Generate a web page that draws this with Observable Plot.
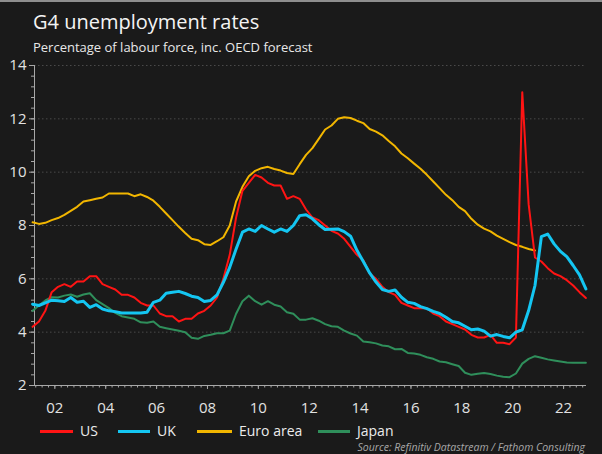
<!DOCTYPE html>
<html><head><meta charset="utf-8">
<script src="https://cdn.jsdelivr.net/npm/d3@7"></script>
<script src="https://cdn.jsdelivr.net/npm/@observablehq/plot@0.6"></script>
<style>
html,body{margin:0;padding:0;background:#1a1a1a;}
#wrap{position:relative;width:602px;height:454px;overflow:hidden;background:#1a1a1a;border-top:2px solid #8e8e8e;box-sizing:border-box;font-family:"Open Sans",sans-serif;}
#head{height:52px;position:relative;}
#title{position:absolute;left:33px;top:6px;font-size:20px;color:#f4f4f4;line-height:normal;white-space:nowrap;}
#sub{position:absolute;left:33px;top:36px;font-size:13px;color:#e8e8e8;line-height:normal;white-space:nowrap;}
#chart svg{display:block;}
.leg{position:absolute;top:421px;height:16px;line-height:16px;display:flex;align-items:center;font-size:14px;color:#ececec;white-space:nowrap;}
.sw{height:3px;margin-right:7px;}
#src{position:absolute;right:17px;top:439px;font-size:10.5px;line-height:13px;font-style:italic;color:#a8a8a8;white-space:nowrap;}
</style></head>
<body>
<div id="wrap">
  <div id="head">
    <div id="title">G4 unemployment rates</div>
    <div id="sub">Percentage of labour force, inc. OECD forecast</div>
  </div>
  <div id="chart"></div>
  <div id="legend"></div>
  <div id="src">Source: Refinitiv Datastream / Fathom Consulting</div>
</div>
<script>
// Quarterly data, 2001 Q1 onward (plotted at mid-quarter)
const startYear = 2001;
const yTickLabels = [2, 4, 6, 8, 10, 12, 14];
const xTickYears = [2002, 2004, 2006, 2008, 2010, 2012, 2014, 2016, 2018, 2020, 2022];

const us = [
  4.2, 4.4, 4.8, 5.5,  5.7, 5.8, 5.7, 5.9,  5.9, 6.1, 6.1, 5.8,  5.7, 5.6, 5.4, 5.4,
  5.3, 5.1, 5.0, 5.0,  4.7, 4.6, 4.6, 4.4,  4.5, 4.5, 4.7, 4.8,  5.0, 5.3, 6.0, 6.9,
  8.3, 9.3, 9.6, 9.9,  9.8, 9.6, 9.5, 9.5,  9.0, 9.1, 9.0, 8.6,  8.3, 8.2, 8.0, 7.8,
  7.7, 7.5, 7.2, 6.9,  6.7, 6.2, 6.0, 5.7,  5.5, 5.4, 5.1, 5.0,  4.9, 4.9, 4.9, 4.7,
  4.6, 4.4, 4.3, 4.2,  4.1, 3.9, 3.8, 3.8,  3.9, 3.6, 3.6, 3.55, 3.8, 13.0, 8.8, 6.8,
  6.65, 6.4, 6.2, 6.1, 5.95, 5.75, 5.5, 5.28
];
const uk = [
  5.05, 5.0, 5.1, 5.2,  5.18, 5.15, 5.3, 5.12,  5.16, 4.93, 5.03, 4.87,  4.8, 4.77, 4.72, 4.72,
  4.72, 4.72, 4.75, 5.12,  5.2, 5.46, 5.5, 5.53,  5.45, 5.35, 5.3, 5.15,  5.19, 5.4, 5.87, 6.43,
  7.12, 7.75, 7.87, 7.78,  8.0, 7.87, 7.75, 7.87,  7.78, 8.0, 8.37, 8.4,  8.25, 8.03, 7.85, 7.86,
  7.87, 7.77, 7.6, 7.07,  6.65, 6.22, 5.88, 5.6,  5.53, 5.58, 5.31, 5.12,  5.08, 4.96, 4.88, 4.78,
  4.7, 4.56, 4.4, 4.35,  4.22, 4.09, 4.12, 4.04,  3.85, 3.91, 3.84, 3.79,  4.0, 4.09, 4.81, 5.75,
  7.58, 7.68, 7.31, 7.03,  6.83, 6.5, 6.15, 5.62
];
const euroArea = [
  8.12, 8.06, 8.1, 8.2,  8.28, 8.4, 8.55, 8.7,  8.9, 8.95, 9.0, 9.05,  9.2, 9.2, 9.2, 9.2,
  9.1, 9.17, 9.07, 8.93,  8.7, 8.45, 8.2, 7.95,  7.72, 7.5, 7.45, 7.3,  7.27, 7.41, 7.56, 8.0,
  8.9, 9.45, 9.85, 10.05,  10.15, 10.2, 10.12, 10.06,  9.97, 9.93, 10.3, 10.65,  10.9, 11.25, 11.6, 11.75,
  12.0, 12.06, 12.03, 11.93,  11.84, 11.62, 11.52, 11.38,  11.17, 10.97, 10.7, 10.52,  10.32, 10.13, 9.9, 9.65,
  9.4, 9.15, 8.95, 8.7,  8.54, 8.25, 8.03, 7.88,  7.78, 7.62, 7.5, 7.38,  7.27, 7.2, 7.12, 7.06
];
const japan = [
  4.8, 5.0, 5.19, 5.31,  5.3, 5.37, 5.41, 5.33,  5.41, 5.46, 5.2, 5.05,  4.9, 4.72, 4.6, 4.55,
  4.5, 4.37, 4.35, 4.4,  4.2, 4.15, 4.1, 4.05,  4.0, 3.79, 3.75, 3.86,  3.9, 3.96, 3.96, 4.06,
  4.69, 5.16, 5.37, 5.16,  5.03, 5.16, 5.03, 4.96,  4.75, 4.69, 4.47, 4.47,  4.52, 4.43, 4.3, 4.22,
  4.2, 4.06, 3.95, 3.87,  3.65, 3.62, 3.58, 3.5,  3.47, 3.36, 3.37, 3.22,  3.2, 3.15, 3.06, 3.0,
  2.9, 2.87, 2.8, 2.73,  2.48, 2.4, 2.44, 2.47,  2.43, 2.37, 2.33, 2.31,  2.45, 2.82, 3.0, 3.1,
  3.04, 2.98, 2.94, 2.9,  2.86, 2.85, 2.85, 2.85
];

const seriesNames = ["US", "UK", "Euro area", "Japan"];
const seriesColors = ["#ff1414", "#14c6f2", "#f2b600", "#2f8f5b"];
const seriesWidths = [2, 3, 2, 2];
const seriesValues = [us, uk, euroArea, japan];

const toRows = (vals, name) => vals.map((v, i) => ({series: name, t: startYear + i * 0.25 + 0.125, v}));

const x0 = 2001.2, x1 = 2022.9;
const quarterTicks = d3.range(0, 100).map(i => startYear + 0.25 + i * 0.25).filter(d => d >= x0 && d <= x1);
const minorY = d3.range(0, 31).map(i => 2 + i * 0.4);
const axisCol = "#a8a8a8";
const textCol = "#e2e2e2";

const drawOrder = [2, 3, 0, 1];
const lineMarks = drawOrder.map(k => Plot.line(toRows(seriesValues[k], seriesNames[k]), {
  x: "t", y: "v", stroke: seriesColors[k], strokeWidth: seriesWidths[k], strokeLinejoin: "round"
}));

const chart = Plot.plot({
  width: 602, height: 374,
  marginTop: 11, marginBottom: 43, marginLeft: 34, marginRight: 16,
  style: {background: "transparent", color: textCol, fontFamily: "Open Sans, sans-serif", fontSize: "15px", overflow: "visible"},
  x: {domain: [x0, x1], label: null},
  y: {domain: [2, 14], label: null},
  marks: [
    Plot.gridY(yTickLabels.filter(d => d > 2), {stroke: "#4a4a4a", strokeOpacity: 1, strokeDasharray: "1.5,2.5"}),
    Plot.axisX(quarterTicks, {tickSize: 2.5, tickFormat: () => "", stroke: axisCol, label: null}),
    Plot.axisX(xTickYears, {tickSize: 4, tickPadding: 13, stroke: axisCol, fill: textCol, fontSize: 15, label: null,
      tickFormat: d => String(d % 100).padStart(2, "0")}),
    Plot.axisY(minorY, {tickSize: 3, tickFormat: () => "", stroke: axisCol, label: null}),
    Plot.axisY(yTickLabels, {tickSize: 5, tickPadding: 3, stroke: axisCol, fill: textCol, fontSize: 15, label: null}),
    Plot.ruleY([2], {stroke: axisCol}),
    Plot.ruleX([x0], {stroke: axisCol}),
    ...lineMarks
  ]
});
document.getElementById("chart").appendChild(chart);

// Legend
const legendX = [40, 118, 197, 318];
const swatchW = [33, 32, 35, 32];
const legend = document.getElementById("legend");
seriesNames.forEach((name, k) => {
  const item = document.createElement("div");
  item.className = "leg";
  item.style.left = legendX[k] + "px";
  const sw = document.createElement("div");
  sw.className = "sw";
  sw.style.width = swatchW[k] + "px";
  sw.style.background = seriesColors[k];
  const tx = document.createElement("span");
  tx.textContent = name;
  item.appendChild(sw); item.appendChild(tx);
  legend.appendChild(item);
});
</script>
</body></html>
